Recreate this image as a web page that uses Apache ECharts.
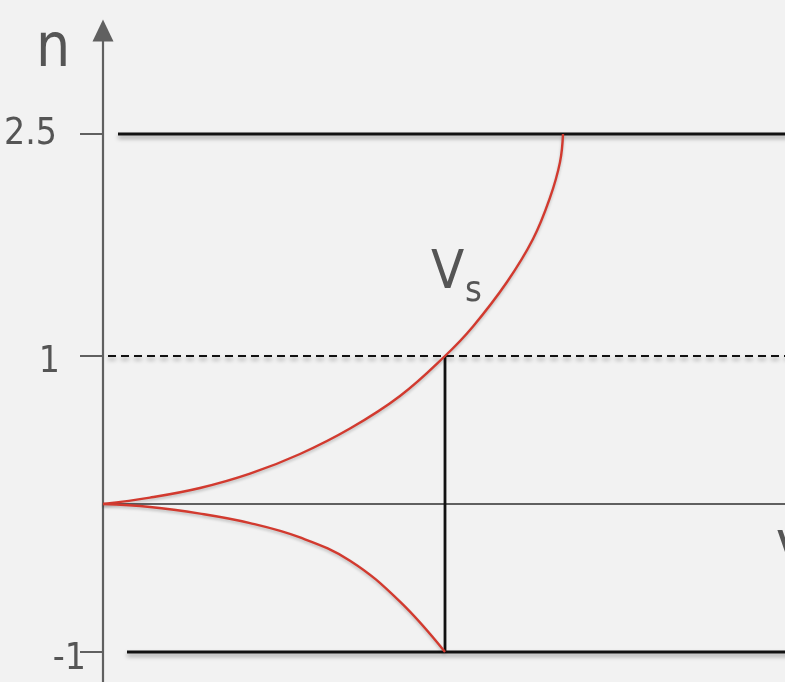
<!DOCTYPE html>
<html>
<head>
<meta charset="utf-8">
<script src="https://cdn.jsdelivr.net/npm/echarts@6/dist/echarts.min.js"></script>
<style>
  html, body { margin: 0; padding: 0; background: #f2f2f2; }
  #chart { width: 785px; height: 682px; }
</style>
</head>
<body>
<div id="chart"></div>
<script>
// ---- data (V in arbitrary units, n = load factor) ----
const upperCurveV = [0, 0.47, 0.97, 1.47, 1.97, 2.47, 2.97, 3.42, 3.70, 4.04, 4.30, 4.47, 4.57, 4.60];
const upperCurveN = [0, 0.043, 0.108, 0.205, 0.338, 0.51, 0.73, 1.0, 1.20, 1.50, 1.79, 2.07, 2.31, 2.5];
const lowerCurveV = [0, 0.47, 0.97, 1.47, 1.97, 2.47, 2.97, 3.42];
const lowerCurveN = [0, -0.02, -0.065, -0.129, -0.226, -0.383, -0.66, -1];

const nMaxPos = 2.5;      // upper limit line
const nRef = 1;           // dashed reference line
const nMaxNeg = -1;       // lower limit line
const vA = 3.42;          // vertical line at Vs(n=1)
const topLineStartV = 0.15;
const refLineStartV = 0.05;
const bottomLineStartV = 0.24;
const linesEndV = 8;

const nTickValues = [-1, 1, 2.5];
const nTickLabels = ['-1', '1', '2.5'];

const FONT = "'DejaVu Sans Condensed', 'DejaVu Sans', sans-serif";
const TXT = '#555555';
const AXIS = '#606060';

function zip(xs, ys) { return xs.map((x, i) => [x, ys[i]]); }

const blackShadow = { shadowColor: 'rgba(0,0,0,0.35)', shadowBlur: 4, shadowOffsetY: 3 };
const redShadow = { shadowColor: 'rgba(0,0,0,0.22)', shadowBlur: 3, shadowOffsetY: 2 };

const chart = echarts.init(document.getElementById('chart'));
chart.setOption({
  animation: false,
  backgroundColor: '#f2f2f2',
  grid: { left: 103, top: 30.4, width: 800, height: 695.6, outerBoundsMode: 'none', containLabel: false },
  xAxis: {
    type: 'value', min: 0, max: 8,
    axisLine: { show: true, onZero: true, lineStyle: { color: AXIS, width: 2 } },
    axisTick: { show: false }, axisLabel: { show: false }, splitLine: { show: false }
  },
  yAxis: {
    type: 'value', min: -1.5, max: 3.2,
    axisLine: {
      show: true, onZero: false,
      symbol: ['none', 'triangle'], symbolSize: [21, 22],
      lineStyle: { color: AXIS, width: 2.2 }
    },
    axisTick: { show: true, customValues: nTickValues, length: 23, lineStyle: { color: AXIS, width: 2 } },
    axisLabel: {
      show: true, customValues: nTickValues, margin: 17,
      color: TXT, fontFamily: FONT, fontSize: 37,
      formatter: function (v) {
        const i = nTickValues.indexOf(v);
        const t = i >= 0 ? nTickLabels[i] : String(v);
        if (v === 2.5) return '{a|' + t + '}';
        if (v === 1) return '{b|' + t + '}';
        return '{c|' + t + '}';
      },
      rich: {
        a: { padding: [0, 29, 0, 0], fontSize: 37, fontFamily: FONT, color: TXT },
        b: { padding: [12, 26, 0, 0], fontSize: 37, fontFamily: FONT, color: TXT },
        c: { padding: [14, 0, 0, 0], fontSize: 37, fontFamily: FONT, color: TXT }
      }
    },
    splitLine: { show: false }
  },
  graphic: [
    { type: 'text', x: 36, y: 50, style: { text: 'n', font: '60px ' + FONT, fill: TXT, verticalAlign: 'middle', align: 'left' } },
    { type: 'text', x: 431, y: 274, style: { text: 'V', font: '54px ' + FONT, fill: TXT, verticalAlign: 'middle', align: 'left' } },
    { type: 'text', x: 465, y: 292, style: { text: 's', font: '36px ' + FONT, fill: TXT, verticalAlign: 'middle', align: 'left' } },
    { type: 'text', x: 777, y: 555, style: { text: 'V', font: '54px ' + FONT, fill: TXT, verticalAlign: 'middle', align: 'left' } }
  ],
  series: [
    { type: 'line', name: 'n max', symbol: 'none', z: 3,
      data: [[topLineStartV, nMaxPos], [linesEndV, nMaxPos]],
      lineStyle: Object.assign({ color: '#111111', width: 3 }, blackShadow) },
    { type: 'line', name: 'n = 1', symbol: 'none', z: 3,
      data: [[refLineStartV, nRef], [linesEndV, nRef]],
      lineStyle: Object.assign({ color: '#111111', width: 2.2, type: [8, 5] }, blackShadow) },
    { type: 'line', name: 'n min', symbol: 'none', z: 3,
      data: [[bottomLineStartV, nMaxNeg], [linesEndV, nMaxNeg]],
      lineStyle: Object.assign({ color: '#111111', width: 3 }, blackShadow) },
    { type: 'line', name: 'VA', symbol: 'none', z: 3,
      data: [[vA, nMaxNeg], [vA, nRef]],
      lineStyle: { color: '#111111', width: 2.8 } },
    { type: 'line', name: 'stall +', symbol: 'none', z: 5, smooth: 0.4,
      data: zip(upperCurveV, upperCurveN),
      lineStyle: Object.assign({ color: '#d23a2f', width: 2.4 }, redShadow) },
    { type: 'line', name: 'stall -', symbol: 'none', z: 5, smooth: 0.4,
      data: zip(lowerCurveV, lowerCurveN),
      lineStyle: Object.assign({ color: '#d23a2f', width: 2.4 }, redShadow) }
  ]
});
</script>
</body>
</html>
